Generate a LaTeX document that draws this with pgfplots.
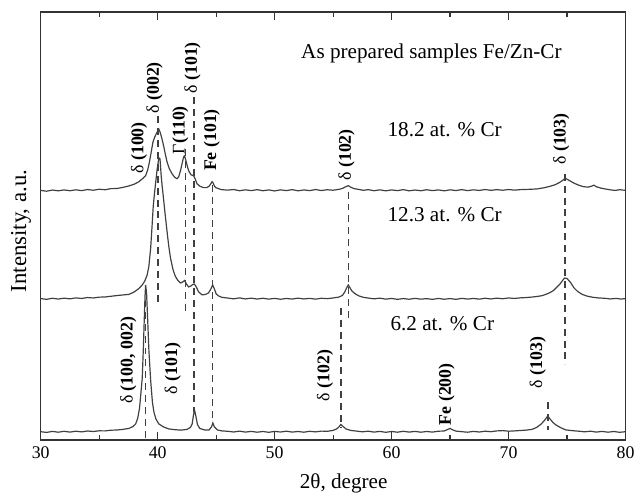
\documentclass[border=0pt]{standalone}
\usepackage{pgfplots}
\pgfplotsset{compat=1.18}
\usepackage{fontspec}
\setmainfont{Liberation Serif}

\tikzset{
  peak/.style={rotate=90, font=\fontsize{9}{10}\selectfont, inner sep=0pt},
  txt/.style={font=\fontsize{10.7}{12}\selectfont, anchor=base west, inner sep=0pt},
  marker/.style={black!75, line width=0.8bp, dash pattern=on 3.5bp off 2.5bp},
}

% XRD patterns, Fe/Zn-Cr, values in plot units (baselines at 8, 142, 251)
\pgfplotstableread{
x y
30 251.2
30.5 250.4
31 251.6
31.5 250.8
32 251.7
32.5 250.9
33 251.8
33.5 251.0
34 252.1
34.5 251.4
35 252.4
35.5 251.9
36 253.0
36.5 253.1
37 254.2
37.5 255.6
38 257.5
38.4 260
38.7 263
38.97 266
39.15 272
39.3 280
39.45 290
39.6 300
39.75 305
39.87 308
40.0 311
40.1 313
40.2 310
40.33 305
40.45 299
40.53 295
40.65 288
40.8 280
41.0 273
41.23 268
41.45 264.5
41.66 263
41.8 265
41.95 271
42.1 279
42.22 285
42.3 286
42.42 281
42.55 275
42.65 271
42.85 267
43.07 266
43.2 263
43.36 258
43.6 255.5
43.92 254
44.2 254
44.4 255.5
44.55 258
44.65 260
44.75 258.5
44.85 255.5
44.97 254
45.2 253
45.46 252
46 251.5
46.5 252.1
47 250.9
47.5 251.8
48 251.0
48.5 252.0
49 250.9
49.5 251.7
50 250.7
50.5 251.8
51 251.0
51.5 252.0
52 250.8
52.5 251.7
53 251.0
53.5 252.1
54 251.1
54.5 251.9
55 251.4
55.5 252.3
55.8 253.2
56.0 254.5
56.3 256
56.5 254.5
56.8 253
57.2 252.2
57.6 251.3
58 252.0
58.5 250.9
59 251.8
59.5 250.8
60 251.7
60.5 251.0
61 252.0
61.5 250.8
62 251.6
62.5 250.9
63 251.9
63.5 251.0
64 251.7
64.5 250.8
65 251.8
65.5 251.1
66 252.0
66.5 251.0
67 251.8
67.5 251.2
68 252.1
68.5 251.3
69 252.0
69.5 251.4
70 252.1
70.5 251.5
71 252.0
71.5 252.2
72 252.4
72.5 252.8
73 253.8
73.5 255.2
74 257.0
74.4 259.5
74.7 262
74.85 263.5
75.0 262.5
75.3 260.5
75.6 258.5
76.0 256.5
76.4 255
76.8 254.5
77.1 255.5
77.3 256.5
77.5 255
77.9 253.5
78.3 252.6
78.7 251.8
79.1 251.2
79.5 251.9
80 251.3
}\topcurve

\pgfplotstableread{
x y
30 142.3
30.5 141.5
31 142.6
31.5 141.8
32 142.7
32.5 142.0
33 143.0
33.5 142.4
34 143.3
34.5 142.9
35 143.7
35.5 143.9
36 144.6
36.5 145.3
37 145.9
37.55 146.5
38 149
38.4 152.5
38.68 156
38.9 160
39.1 166
39.25 175
39.4 193
39.52 215
39.62 235
39.7 245
39.8 256
39.95 272
40.1 284
40.2 283
40.3 266
40.38 256
40.5 243
40.65 226
40.8 210
40.95 195
41.1 183
41.3 172
41.5 165
41.7 161
41.95 158
42.15 159
42.3 160.5
42.45 157
42.65 154
42.85 155
43.0 156.5
43.13 157
43.3 154
43.5 149
43.8 146
44.1 146.5
44.35 148
44.55 152
44.7 156
44.85 152
45.0 147
45.2 145
45.5 143.5
46 142.8
46.5 142.0
47 143.0
47.5 141.9
48 142.7
48.5 141.8
49 142.6
49.5 141.7
50 142.5
50.5 141.6
51 142.4
51.5 141.8
52 142.7
52.5 141.9
53 142.5
53.5 141.7
54 142.6
54.5 142.2
55 142.9
55.5 143.8
55.8 145.5
56.0 149
56.15 153
56.3 156
56.45 153
56.6 150
56.9 147
57.2 145
57.6 143.5
58 142.8
58.5 142.0
59 142.7
59.5 141.7
60 142.4
60.5 141.5
61 142.3
61.5 141.6
62 142.5
62.5 141.7
63 142.2
63.5 141.5
64 142.4
64.5 141.6
65 142.3
65.5 141.5
66 142.5
66.5 141.8
67 142.4
67.5 141.7
68 142.6
68.5 141.9
69 142.7
69.5 142.1
70 142.9
70.5 142.4
71 143.0
71.5 143.3
72 143.8
72.5 144.5
72.9 145.3
73.4 147.5
73.8 150
74.1 153.5
74.4 157
74.65 161
74.8 163
75.0 162.5
75.3 158.5
75.6 153
75.9 149.5
76.3 146.5
76.7 144.8
77.2 143.6
77.7 142.9
78.2 142.6
78.7 141.9
79.2 142.5
79.6 141.8
80 142.2
}\midcurve

\pgfplotstableread{
x y
30 8.2
30.5 7.5
31 8.5
31.5 7.7
32 8.6
32.5 7.8
33 8.7
33.5 8.0
34 8.9
34.5 8.4
35 9.1
35.5 9.0
36 9.7
36.5 9.9
37 10.5
37.55 11.5
37.9 13.5
38.12 16
38.3 22
38.45 32
38.55 45
38.68 62
38.77 90
38.85 120
38.92 145
38.97 156
39.05 148
39.15 120
39.25 90
39.4 60
39.55 38
39.68 28
39.85 21
40.1 16
40.5 13
40.95 11
41.5 10.2
42 9.8
42.5 10.5
42.8 12.5
42.95 16
43.05 24
43.15 30
43.25 25
43.4 15.5
43.6 11.5
44.0 10
44.4 10
44.6 13
44.72 17
44.85 13
45.1 10
45.5 9.0
46 8.6
46.5 7.9
47 8.8
47.5 7.8
48 8.5
48.5 7.7
49 8.4
49.5 7.6
50 8.5
50.5 7.9
51 8.7
51.5 7.8
52 8.4
52.5 7.7
53 8.6
53.5 8.0
54 8.8
54.5 8.6
55 9.5
55.3 11
55.5 13
55.66 15.5
55.85 13.5
56.1 11
56.5 9.5
57 8.8
57.5 8.1
58 8.7
58.5 7.8
59 8.5
59.5 7.6
60 8.4
60.5 7.7
61 8.6
61.5 7.8
62 8.5
62.5 7.7
63 8.4
63.5 7.8
64 8.7
64.5 8.9
64.8 10.5
65.0 11.5
65.2 10.2
65.5 8.8
66 8.2
66.5 7.7
67 8.5
67.5 7.9
68 8.7
68.5 8.2
69 9.0
69.5 9.3
70 8.7
70.5 9.0
71 9.4
71.5 9.8
72 10.5
72.4 12.5
72.8 16
73.1 20
73.35 24
73.55 21
73.8 17.5
74.05 15
74.5 12
74.9 10
75.5 9.2
76 8.7
76.5 8.1
77 8.7
77.5 7.8
78 8.5
78.5 7.7
79 8.4
79.5 7.6
80 8.2
}\botcurve

\begin{document}
\begin{tikzpicture}
\begin{axis}[
    scale only axis,
    width=294.5bp, height=215.5bp,
    xmin=30, xmax=80,
    ymin=0, ymax=431,
    xtick={30,40,...,80},
    minor x tick num=1,
    ytick=\empty,
    tick align=inside,
    major tick length=4bp,
    minor tick length=2.5bp,
    axis line style={black!80, line width=0.7bp},
    every tick/.style={black!80, line width=0.6bp},
    /pgf/number format/assume math mode=true,
    tick label style={font=\fontsize{9}{10}\selectfont},
    xlabel={2θ, degree},
    xlabel style={font=\fontsize{10.7}{12}\selectfont, at={(axis description cs:0.518,0)}, anchor=base, yshift=-24.5bp, inner sep=0pt},
    ylabel={Intensity, a.u.},
    ylabel style={font=\fontsize{11.5}{13}\selectfont, at={(axis description cs:-0.016,0.488)}, anchor=south, inner sep=0pt},
    every axis plot/.append style={black!75, line width=0.6bp},
]
\addplot[black!75] table {\topcurve};
\addplot[black!75] table {\midcurve};
\addplot[black!75] table {\botcurve};

% reflection markers
\addplot[marker] coordinates {(40.05,326) (40.05,136)};
\addplot[marker] coordinates {(42.37,293) (42.37,126)};
\addplot[marker] coordinates {(43.13,345) (43.13,28)};
\addplot[marker] coordinates {(44.69,257) (44.69,15)};
\addplot[marker] coordinates {(38.97,153) (38.97,0)};
\addplot[marker] coordinates {(56.3,250) (56.3,120)};
\addplot[marker] coordinates {(55.66,133) (55.66,12)};
\addplot[marker] coordinates {(74.83,268) (74.83,76)};
\addplot[marker] coordinates {(73.35,38) (73.35,10)};

\node[peak] at (axis cs:38.4,294) {δ \textbf{(100)}};
\node[peak] at (axis cs:39.73,354.5) {δ \textbf{(002)}};
\node[peak] at (axis cs:41.94,312) {Γ\textbf{(110)}};
\node[peak] at (axis cs:42.99,374.7) {δ \textbf{(101)}};
\node[peak] at (axis cs:44.63,302) {\textbf{Fe (101)}};
\node[peak] at (axis cs:56.15,287) {δ \textbf{(102)}};
\node[peak] at (axis cs:74.5,303) {δ \textbf{(103)}};
\node[peak] at (axis cs:37.49,80) {δ \textbf{(100, 002)}};
\node[peak] at (axis cs:41.3,72) {δ \textbf{(101)}};
\node[peak] at (axis cs:54.32,65) {δ \textbf{(102)}};
\node[peak] at (axis cs:64.7,46) {\textbf{Fe (200)}};
\node[peak] at (axis cs:72.5,78) {δ \textbf{(103)}};

\node[txt] at (axis cs:52.24,384) {As prepared samples Fe/Zn-Cr};
\node[txt] at (axis cs:59.63,306) {18.2 at. \% Cr};
\node[txt] at (axis cs:59.63,220) {12.3 at. \% Cr};
\node[txt] at (axis cs:59.88,110) {6.2 at. \% Cr};
\end{axis}
\path (current axis.south west) ++(-20.5bp,-27.5bp) rectangle ++(320.5bp,249bp);
\end{tikzpicture}
\end{document}
